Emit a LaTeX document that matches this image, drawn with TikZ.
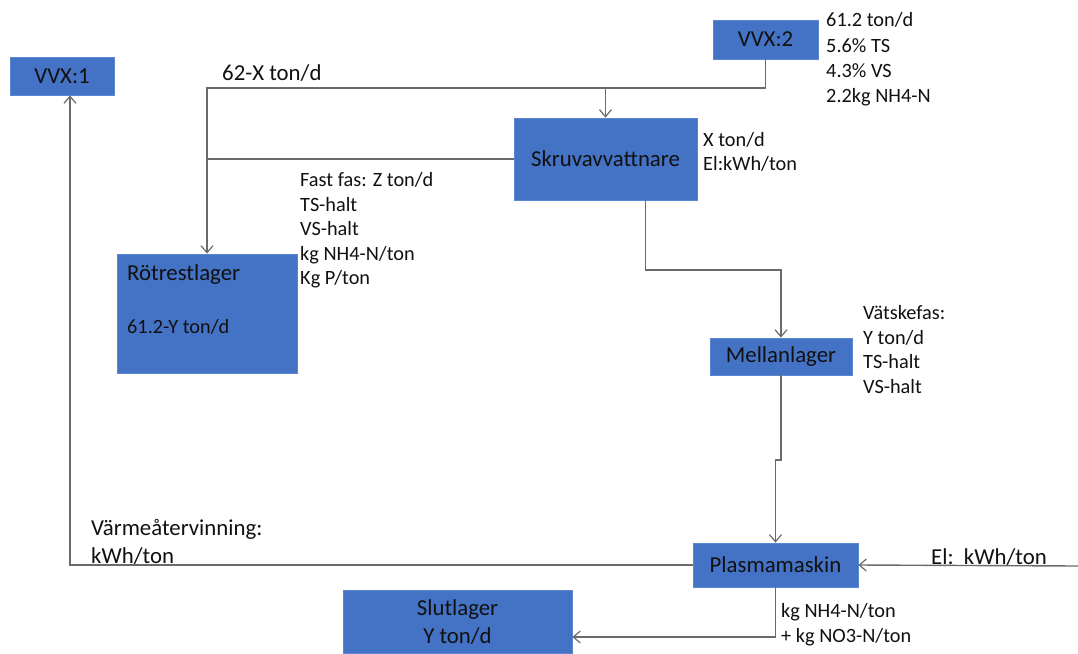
\documentclass[tikz,border=0pt]{standalone}
\usepackage{fontspec}
\setmainfont{Carlito}
\usetikzlibrary{arrows.meta}
\definecolor{boxblue}{HTML}{4472C4}
\definecolor{boxedge}{HTML}{5A86D2}
\definecolor{linegray}{HTML}{6A6A6A}
\definecolor{txt}{HTML}{111111}
\begin{document}
\begin{tikzpicture}[x=1pt,y=-1pt,
  box/.style={fill=boxblue,draw=boxedge,line width=0.8pt,inner sep=0pt,text=txt},
  big/.style={font=\fontsize{22.8}{27}\selectfont},
  small/.style={font=\fontsize{20.3}{25}\selectfont},
  lbl/.style={small,anchor=base west,inner sep=0pt,text=txt},
  biglbl/.style={big,anchor=base west,inner sep=0pt,text=txt},
  conn/.style={draw=linegray,line width=1.4pt},
  arr/.style={conn,-{Straight Barb[length=7pt,width=12pt,line width=1.2pt]}}]
\path[use as bounding box,fill=white] (0,0) rectangle (1078,653);

% boxes
\node[box,big,minimum width=104pt,minimum height=38pt] (v1) at (62,76) {VVX:1};
\node[box,big,minimum width=105pt,minimum height=39pt] (v2) at (765.5,39.5) {VVX:2};
\node[box,big,minimum width=183pt,minimum height=82pt] (sk) at (605.5,159) {Skruvavvattnare};
\node[box,minimum width=180pt,minimum height=119pt] (rot) at (207,313.5) {};
\node[box,big,minimum width=142pt,minimum height=37pt] (ml) at (781,356.5) {Mellanlager};
\node[box,big,minimum width=165pt,minimum height=44pt] (pm) at (775.5,565) {Plasmamaskin};
\node[box,minimum width=229pt,minimum height=63pt] (sl) at (457.5,621.5) {};

% texts inside boxes
\node[biglbl] (rot1) at (127,280) {Rötrestlager};
\node[lbl] (rot2) at (127,333) {61.2-Y ton/d};
\node[big,anchor=base,inner sep=0pt,text=txt] (sl1) at (457.5,615) {Slutlager};
\node[big,anchor=base,inner sep=0pt,text=txt] (sl2) at (457.5,643) {Y ton/d};

% labels
\node[biglbl] (l62) at (222,80) {62-X ton/d};
\node[lbl] (a1) at (826,27) {61.2 ton/d};
\node[lbl] (a2) at (826,52) {5.6\% TS};
\node[lbl] (a3) at (826,77) {4.3\% VS};
\node[lbl] (a4) at (826,102) {2.2kg NH4-N};
\node[lbl] (b1) at (703,146) {X ton/d};
\node[lbl] (b2) at (703,170) {El:kWh/ton};
\node[lbl] (c1) at (300,186) {Fast fas: Z ton/d};
\node[lbl] (c2) at (300,211) {TS-halt};
\node[lbl] (c3) at (300,235) {VS-halt};
\node[lbl] (c4) at (300,260) {kg NH4-N/ton};
\node[lbl] (c5) at (300,284) {Kg P/ton};
\node[lbl] (d1) at (863,319) {Vätskefas:};
\node[lbl] (d2) at (863,344) {Y ton/d};
\node[lbl] (d3) at (863,368) {TS-halt};
\node[lbl] (d4) at (863,393) {VS-halt};
\node[biglbl] (e1) at (91,535) {Värmeåtervinning:};
\node[biglbl] (e2) at (91,563) {kWh/ton};
\node[biglbl] (f1) at (931,564) {El:\ \ kWh/ton};
\node[lbl] (g1) at (781,617) {kg NH4-N/ton};
\node[lbl] (g2) at (781,642) {+ kg NO3-N/ton};

% connectors
\coordinate (top) at (605.5,88);
\coordinate (elin) at (1078,566);
\draw[arr] (v2.south) |- (top) -- (sk.north);
\draw[arr] (top) -| (rot.north);
\draw[conn] (sk.west) -- (sk.west -| rot.north);
\draw[arr] ([xshift=40pt]sk.south) |- (ml.north |- 0,270) -- (ml.north);
\draw[arr] (ml.south) -- (ml.south |- 0,460) -- (pm.north |- 0,460) -- (pm.north);
\draw[arr] (pm.west) -| ([xshift=8pt]v1.south);
\draw[arr] (elin) -- (pm.east);
\draw[arr] (pm.south) |- (sl.east |- 0,637);
\end{tikzpicture}
\end{document}
